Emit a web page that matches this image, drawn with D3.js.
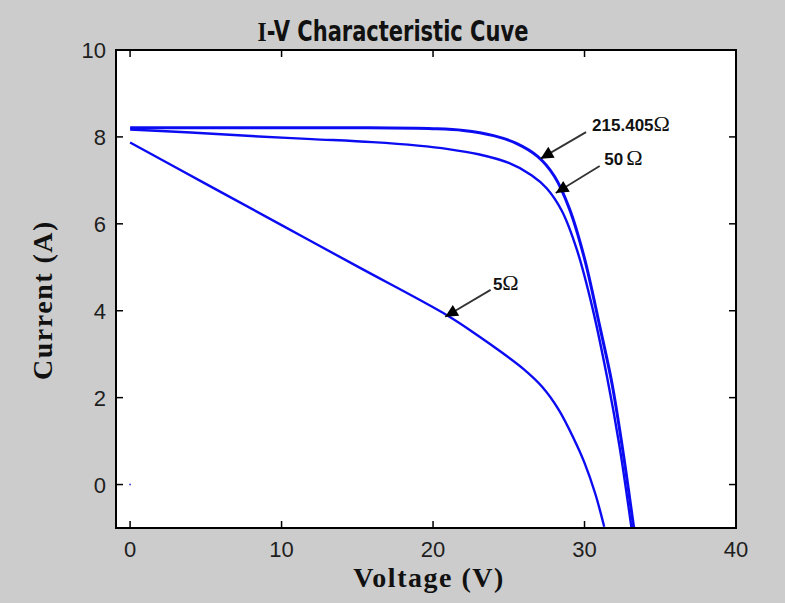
<!DOCTYPE html>
<html>
<head>
<meta charset="utf-8">
<script src="https://cdn.jsdelivr.net/npm/d3@7"></script>
<style>
  html, body { margin: 0; padding: 0; background: #cccccc; }
  svg { display: block; }
  .tick-label { font-family: Arial, "Liberation Sans", sans-serif; font-size: 22px; fill: #1e1e1e; }
  .axis-title { font-family: "Liberation Serif", "DejaVu Serif", serif; font-weight: bold; font-size: 28px; fill: #111; letter-spacing: 1.5px; }
  .note { font-family: Arial, "Liberation Sans", sans-serif; font-weight: bold; font-size: 17px; fill: #111; }
</style>
</head>
<body>
<svg id="chart"></svg>
<script>
(function() {

    // 215.405 ohm curve
    var volts215 = [0, 5, 10, 15, 20, 22, 24, 25.5, 26.9, 28, 29, 30, 31, 31.8, 32.5, 33.25];
    var amps215  = [8.21, 8.21, 8.21, 8.21, 8.19, 8.15, 8.03, 7.85, 7.55, 7.1, 6.35, 5.2, 3.65, 2.35, 0.85, -1.0];

    // 50 ohm curve
    var volts50 = [0, 4, 8, 12, 16, 19, 21, 23, 25, 26.5, 27.5, 28.5, 29.5, 30.5, 31.5, 32.3, 33.1];
    var amps50  = [8.17, 8.1, 8.02, 7.95, 7.88, 7.8, 7.72, 7.6, 7.4, 7.12, 6.82, 6.3, 5.4, 4.1, 2.45, 0.9, -1.0];

    // 5 ohm curve
    var volts5 = [0, 5, 10, 15, 21, 23, 24.5, 26, 27.2, 28.3, 29.3, 30.0, 30.7, 31.3];
    var amps5  = [7.87, 6.92, 5.97, 5.02, 3.88, 3.42, 3.05, 2.65, 2.25, 1.72, 1.05, 0.5, -0.2, -0.97];

    var xTicks = [0, 10, 20, 30, 40];
    var yTicks = [0, 2, 4, 6, 8, 10];

    // annotation labels, arrow tail / tip in data units
    var noteLabels = ['215.405', '50', '5'];
    var noteTail = [[30.1, 8.11], [31.0, 7.33], [23.8, 4.48]];
    var noteTip  = [[27.1, 7.5], [28.1, 6.71], [20.8, 3.86]];
    var noteText = [[30.5, 8.14], [31.3, 7.36], [23.95, 4.48]];

    var W = 785, H = 603;
    var plot = { left: 116, right: 736, top: 50, bottom: 528 };

    var svg = d3.select('#chart')
        .attr('width', W)
        .attr('height', H);

    svg.append('rect')
        .attr('width', W)
        .attr('height', H)
        .attr('fill', '#cccccc');

    var x = d3.scaleLinear().domain([-0.93, 40]).range([plot.left, plot.right]);
    var y = d3.scaleLinear().domain([-1, 10]).range([plot.bottom, plot.top]);

    svg.append('rect')
        .attr('x', plot.left)
        .attr('y', plot.top)
        .attr('width', plot.right - plot.left)
        .attr('height', plot.bottom - plot.top)
        .attr('fill', '#fff');

    var defs = svg.append('defs');
    defs.append('clipPath').attr('id', 'clip')
        .append('rect')
        .attr('x', plot.left)
        .attr('y', plot.top)
        .attr('width', plot.right - plot.left)
        .attr('height', plot.bottom - plot.top);

    defs.append('marker')
        .attr('id', 'head')
        .attr('viewBox', '0 0 10 10')
        .attr('refX', 10)
        .attr('refY', 5)
        .attr('markerWidth', 9)
        .attr('markerHeight', 7)
        .attr('markerUnits', 'strokeWidth')
        .attr('orient', 'auto')
        .append('path')
        .attr('d', 'M0,0 L10,5 L0,10 Z')
        .attr('fill', '#000');

    // curves
    var line = d3.line()
        .x(function(d) { return x(d[0]); })
        .y(function(d) { return y(d[1]); })
        .curve(d3.curveCatmullRom.alpha(0.5));

    var series = [
        d3.zip(volts215, amps215),
        d3.zip(volts50, amps50),
        d3.zip(volts5, amps5)
    ];

    var curves = svg.append('g').attr('clip-path', 'url(#clip)');
    curves.selectAll('path')
        .data(series)
        .enter()
        .append('path')
        .attr('d', line)
        .attr('fill', 'none')
        .attr('stroke', '#0c0cf2')
        .attr('stroke-width', function(d, i) { return i == 0 ? 3 : 2.4; });

    // stray point at origin
    curves.append('circle')
        .attr('cx', x(0))
        .attr('cy', y(0))
        .attr('r', 1)
        .attr('fill', '#5050e0');

    // frame + inward ticks on all four sides
    var axes = svg.append('g').attr('stroke', '#000');
    axes.append('rect')
        .attr('x', plot.left)
        .attr('y', plot.top)
        .attr('width', plot.right - plot.left)
        .attr('height', plot.bottom - plot.top)
        .attr('fill', 'none')
        .attr('stroke-width', 2);

    var tl = 7;
    xTicks.forEach(function(t) {
        axes.append('line').attr('x1', x(t)).attr('x2', x(t))
            .attr('y1', plot.bottom).attr('y2', plot.bottom - tl).attr('stroke-width', 1.5);
        axes.append('line').attr('x1', x(t)).attr('x2', x(t))
            .attr('y1', plot.top).attr('y2', plot.top + tl).attr('stroke-width', 1.5);
    });
    yTicks.forEach(function(t) {
        axes.append('line').attr('y1', y(t)).attr('y2', y(t))
            .attr('x1', plot.left).attr('x2', plot.left + tl).attr('stroke-width', 1.5);
        axes.append('line').attr('y1', y(t)).attr('y2', y(t))
            .attr('x1', plot.right).attr('x2', plot.right - tl).attr('stroke-width', 1.5);
    });

    svg.selectAll('.xlab')
        .data(xTicks)
        .enter()
        .append('text')
        .attr('class', 'tick-label')
        .attr('x', function(d) { return x(d); })
        .attr('y', plot.bottom + 29)
        .attr('text-anchor', 'middle')
        .text(function(d) { return d; });

    svg.selectAll('.ylab')
        .data(yTicks)
        .enter()
        .append('text')
        .attr('class', 'tick-label')
        .attr('x', plot.left - 10)
        .attr('y', function(d) { return y(d) + 8; })
        .attr('text-anchor', 'end')
        .text(function(d) { return d; });

    // title: condensed by a horizontal scale to the reference width
    var titleG = svg.append('g');
    var title = titleG.append('text')
        .attr('x', 0)
        .attr('y', 0)
        .attr('text-anchor', 'middle')
        .attr('font-family', '"DejaVu Sans Condensed", "Liberation Sans", sans-serif')
        .attr('font-weight', 600)
        .attr('font-size', 28)
        .attr('fill', '#111');
    title.append('tspan')
        .attr('font-family', '"Liberation Serif", serif')
        .attr('font-weight', 'bold')
        .text('I');
    title.append('tspan').text('-V Characteristic Cuve');
    var tw = title.node().getComputedTextLength() || 340;
    titleG.attr('transform', 'translate(393,41) scale(' + (271 / tw) + ',1)');

    svg.append('text')
        .attr('class', 'axis-title')
        .attr('x', 429)
        .attr('y', 587)
        .attr('text-anchor', 'middle')
        .text('Voltage (V)');

    svg.append('text')
        .attr('class', 'axis-title')
        .attr('transform', 'translate(52,300) rotate(-90)')
        .attr('text-anchor', 'middle')
        .text('Current (A)');

    // annotations
    noteLabels.forEach(function(lbl, i) {
        svg.append('line')
            .attr('x1', x(noteTail[i][0])).attr('y1', y(noteTail[i][1]))
            .attr('x2', x(noteTip[i][0])).attr('y2', y(noteTip[i][1]))
            .attr('stroke', '#333')
            .attr('stroke-width', 1.8)
            .attr('marker-end', 'url(#head)');
        var t = svg.append('text')
            .attr('class', 'note')
            .attr('x', x(noteText[i][0]))
            .attr('y', y(noteText[i][1]));
        t.append('tspan').text(lbl);
        t.append('tspan')
            .attr('font-family', '"Liberation Serif", "DejaVu Serif", serif')
            .attr('font-weight', 'normal')
            .attr('font-size', 22)
            .attr('dx', i == 1 ? 3 : 0)
            .text('\u03A9');
    });

})();
</script>
</body>
</html>
